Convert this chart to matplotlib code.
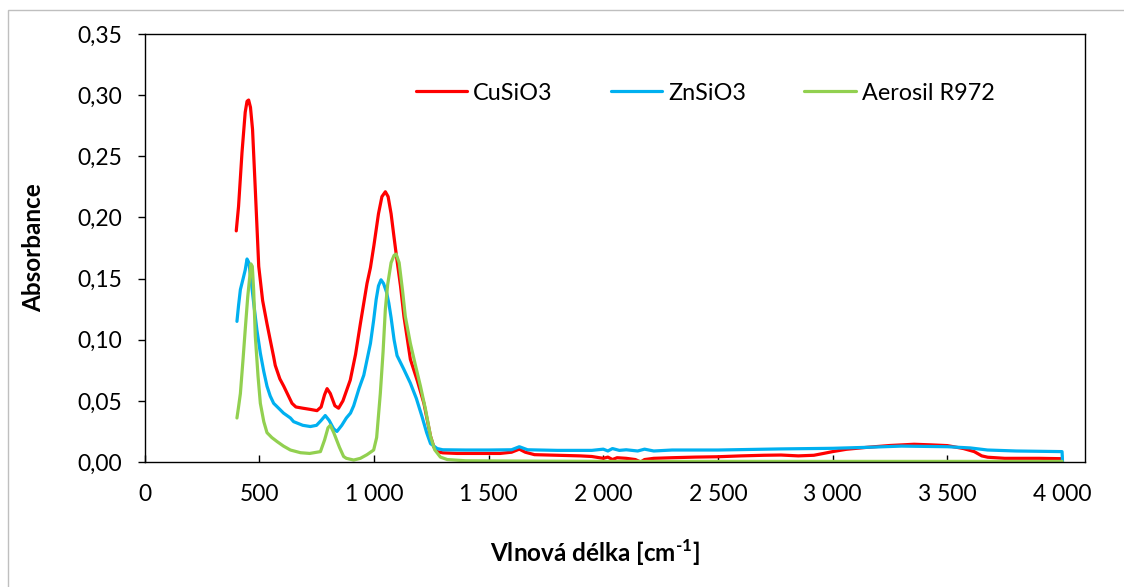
import matplotlib
matplotlib.use("Agg")
import matplotlib.pyplot as plt
from matplotlib.ticker import FuncFormatter, MultipleLocator
from matplotlib.patches import Rectangle

plt.rcParams['font.family'] = ['Lato', 'DejaVu Sans']
plt.rcParams['mathtext.fontset'] = 'custom'
plt.rcParams['mathtext.rm'] = 'Lato:bold'
plt.rcParams['mathtext.bf'] = 'Lato:bold'

# ---- data ----
cu_x = [400, 410, 425, 439, 447, 454, 462, 471, 483, 498, 515, 534, 550, 563, 570, 590, 607, 625,
        643, 660, 690, 723, 752, 770, 785, 796, 810, 830, 846, 865, 897, 920, 941, 970, 985, 1000,
        1020, 1035, 1050, 1062, 1075, 1087, 1100, 1116, 1131, 1159, 1190, 1218, 1247, 1262, 1276,
        1300, 1363, 1450, 1550, 1600, 1634, 1660, 1700, 1800, 1900, 1950, 2000, 2020, 2040, 2060,
        2100, 2140, 2163, 2180, 2220, 2300, 2400, 2500, 2600, 2700, 2775, 2850, 2918, 2960, 3000,
        3060, 3150, 3250, 3355, 3430, 3500, 3570, 3617, 3650, 3676, 3750, 3900, 4000]
cu_y = [0.189, 0.209, 0.253, 0.286, 0.295, 0.296, 0.290, 0.272, 0.223, 0.160, 0.132, 0.113, 0.098,
        0.086, 0.079, 0.068, 0.062, 0.055, 0.048, 0.045, 0.044, 0.043, 0.042, 0.045, 0.055, 0.060,
        0.056, 0.046, 0.044, 0.050, 0.067, 0.088, 0.113, 0.146, 0.159, 0.177, 0.203, 0.217, 0.221,
        0.217, 0.203, 0.185, 0.166, 0.144, 0.119, 0.084, 0.066, 0.048, 0.021, 0.012, 0.0085,
        0.0075, 0.007, 0.007, 0.007, 0.008, 0.0105, 0.008, 0.006, 0.0055, 0.005, 0.0045, 0.003,
        0.004, 0.002, 0.0035, 0.003, 0.002, 0.0, 0.002, 0.003, 0.0035, 0.004, 0.0043, 0.005,
        0.0055, 0.0057, 0.005, 0.0055, 0.007, 0.0085, 0.0104, 0.012, 0.0135, 0.0145, 0.014,
        0.0134, 0.011, 0.0085, 0.005, 0.0039, 0.003, 0.003, 0.0027]

zn_x = [403, 410, 418, 430, 439, 447, 455, 465, 476, 490, 505, 520, 534, 548, 563, 590, 606, 636,
        650, 690, 723, 750, 770, 788, 805, 825, 839, 860, 880, 898, 912, 935, 956, 985, 999, 1010,
        1020, 1031, 1042, 1055, 1065, 1075, 1088, 1101, 1130, 1159, 1185, 1210, 1230, 1247, 1276,
        1300, 1400, 1500, 1600, 1634, 1670, 1800, 1950, 2000, 2020, 2040, 2070, 2100, 2150, 2180,
        2220, 2300, 2500, 2775, 3000, 3150, 3300, 3500, 3600, 3675, 3800, 4000, 4002]
zn_y = [0.115, 0.128, 0.141, 0.150, 0.157, 0.166, 0.163, 0.148, 0.130, 0.108, 0.089, 0.074, 0.062,
        0.054, 0.048, 0.043, 0.040, 0.036, 0.033, 0.030, 0.029, 0.030, 0.034, 0.038, 0.034, 0.027,
        0.025, 0.030, 0.036, 0.040, 0.046, 0.060, 0.071, 0.097, 0.116, 0.133, 0.144, 0.149, 0.146,
        0.139, 0.130, 0.118, 0.100, 0.087, 0.076, 0.0645, 0.052, 0.037, 0.024, 0.015, 0.011,
        0.010, 0.0098, 0.0098, 0.010, 0.0125, 0.010, 0.0095, 0.0095, 0.0105, 0.009, 0.011, 0.0095,
        0.010, 0.009, 0.0105, 0.009, 0.0098, 0.0098, 0.0107, 0.0112, 0.012, 0.013, 0.0125, 0.0115,
        0.0098, 0.009, 0.0085, 0.0]

ae_x = [403, 410, 418, 430, 439, 450, 458, 464, 470, 476, 483, 495, 505, 520, 534, 555, 578, 606,
        636, 680, 720, 767, 785, 800, 810, 825, 850, 868, 880, 912, 941, 970, 999, 1012, 1028, 1040,
        1050, 1060, 1075, 1088, 1097, 1110, 1125, 1137, 1159, 1180, 1203, 1225, 1247, 1265, 1290,
        1320, 1400, 1600, 2000, 3000, 4000]
ae_y = [0.036, 0.045, 0.056, 0.085, 0.108, 0.135, 0.150, 0.162, 0.160, 0.140, 0.103, 0.070, 0.048,
        0.033, 0.024, 0.020, 0.0167, 0.013, 0.0098, 0.0076, 0.007, 0.0085, 0.018, 0.028, 0.030,
        0.024, 0.012, 0.0045, 0.003, 0.0016, 0.003, 0.006, 0.0098, 0.020, 0.056, 0.090, 0.125,
        0.145, 0.163, 0.169, 0.170, 0.163, 0.140, 0.119, 0.097, 0.080, 0.062, 0.043, 0.021, 0.010,
        0.004, 0.002, 0.001, 0.0008, 0.0005, 0.0005, 0.0005]

series_names = ["CuSiO3", "ZnSiO3", "Aerosil R972"]
series_colors = ["#FF0000", "#00B0F0", "#92D050"]

# ---- figure ----
W, H = 1124, 587
fig = plt.figure(figsize=(W / 100, H / 100), dpi=100)
fig.patches.append(Rectangle((8 / W, -0.1), 1.2, 1.1 - 9.5 / H, transform=fig.transFigure,
                             fill=False, edgecolor="#BFBFBF", linewidth=1.0))
ax = fig.add_axes([144.5 / W, 1 - 462 / H, (1085 - 144.5) / W, (462 - 34) / H])

for xs, ys, name, col in zip([cu_x, zn_x, ae_x], [cu_y, zn_y, ae_y], series_names, series_colors):
    ax.plot(xs, ys, color=col, lw=2.3, label=name, solid_joinstyle="round", solid_capstyle="round")

ax.set_xlim(0, 4100)
ax.set_ylim(0, 0.35)
ax.xaxis.set_major_locator(MultipleLocator(500))
ax.yaxis.set_major_locator(MultipleLocator(0.05))
ax.xaxis.set_major_formatter(FuncFormatter(lambda v, p: f"{int(round(v)):,}".replace(",", " ") if v <= 4000 else ""))
ax.yaxis.set_major_formatter(FuncFormatter(lambda v, p: f"{v:.2f}".replace(".", ",")))
for s in ax.spines.values():
    s.set_linewidth(1.0)
    s.set_color("black")
ax.tick_params(axis="x", direction="in", length=5, width=1, labelsize=16.5, pad=16)
ax.tick_params(axis="y", direction="out", length=5, width=1, labelsize=16.5, pad=11)

ax.set_ylabel("Absorbance", fontsize=17.5, fontweight="bold")
ax.yaxis.set_label_coords(-(144.5 - 45) / (1085 - 144.5), 0.5)
fig.text(595 / W, 1 - 553 / H, r"Vlnová délka [cm$^{\text{-1}}$]", fontsize=17.5, fontweight="bold",
         ha="center", va="center")

leg = ax.legend(loc="center left", bbox_to_anchor=(416 / W, 1 - 93 / H), bbox_transform=fig.transFigure,
                ncol=3, frameon=False, fontsize=16.8, handlelength=2.2, handletextpad=0.25,
                columnspacing=2.5, borderpad=0, borderaxespad=0)

fig.savefig("out.png", dpi=100)
